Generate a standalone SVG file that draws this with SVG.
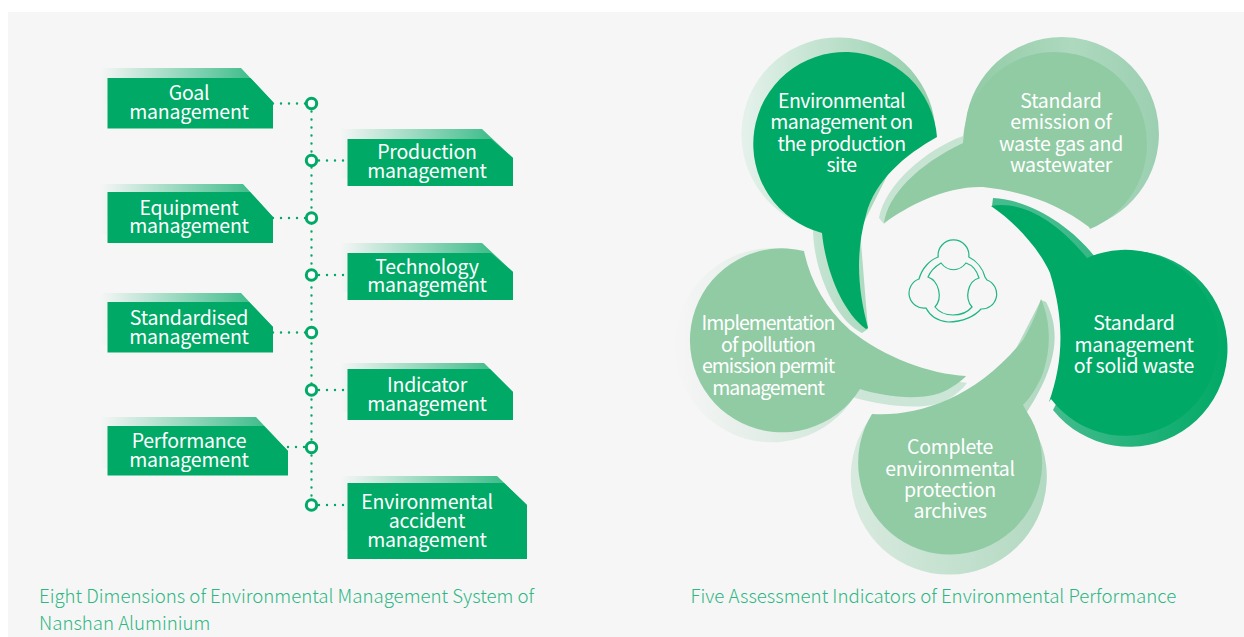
<svg xmlns="http://www.w3.org/2000/svg" width="1244" height="637" viewBox="0 0 1244 637">
<style>
text{font-family:"Noto Sans CJK SC","Noto Sans",sans-serif;text-anchor:middle;fill:#fff;font-size:19.5px}
.cap{text-anchor:start;fill:#2fb684;font-size:18.65px;font-weight:300}
.tag{fill:#00a966}
.t{letter-spacing:-.2px}
.light{fill:#90cba4}
.dark{fill:#00a966}
.dots{fill:none;stroke:#00a966;stroke-width:2.4;stroke-linecap:round;stroke-dasharray:0 8}
.ring{fill:#fff;stroke:#00a966;stroke-width:3}
.icon{fill:none;stroke:#1fb586;stroke-width:1.2}
</style>
<defs>
<linearGradient id="tb" x1="0" x2="1" y1="0" y2="0"><stop offset="0" stop-color="#00a966" stop-opacity="0"/><stop offset="1" stop-color="#00a966" stop-opacity=".85"/></linearGradient>
<linearGradient id="b1" gradientUnits="userSpaceOnUse" x1="740" x2="935" y1="0" y2="0"><stop offset="0" stop-color="#e6f2ec"/><stop offset="1" stop-color="#90cda8"/></linearGradient>
<linearGradient id="b2" gradientUnits="userSpaceOnUse" x1="965" x2="1159" y1="0" y2="0"><stop offset="0" stop-color="#90cba4"/><stop offset=".55" stop-color="#aed9bf"/><stop offset="1" stop-color="#9ccfb1"/></linearGradient>
<linearGradient id="b3" gradientUnits="userSpaceOnUse" x1="1050" x2="1228" y1="0" y2="0"><stop offset="0" stop-color="#45bc8e"/><stop offset="1" stop-color="#00a966"/></linearGradient>
<linearGradient id="b4" gradientUnits="userSpaceOnUse" x1="851" x2="1047" y1="0" y2="0"><stop offset="0" stop-color="#d8eadf"/><stop offset="1" stop-color="#b2d9c1"/></linearGradient>
<linearGradient id="b5" gradientUnits="userSpaceOnUse" x1="680" x2="870" y1="0" y2="0"><stop offset="0" stop-color="#f5f5f5"/><stop offset="1" stop-color="#cbe5d6"/></linearGradient>
</defs>
<rect width="1244" height="637" fill="#fff"/>
<rect x="8" y="12" width="1236" height="625" fill="#f6f6f6"/>

<g id="connectors">
<path class="dots" d="M311.500 103.500V505"/>
<path class="dots" d="M273 103.500H311M311 160.500H348M273 218H311M311 275H348M273 332.500H311M311 390H348M288 447H311M311 505H348"/>
<g>
<circle class="ring" cx="311.500" cy="103.500" r="5.200"/><circle class="ring" cx="311.500" cy="160.500" r="5.200"/><circle class="ring" cx="311.500" cy="218" r="5.200"/><circle class="ring" cx="311.500" cy="275" r="5.200"/><circle class="ring" cx="311.500" cy="332.500" r="5.200"/><circle class="ring" cx="311.500" cy="390" r="5.200"/><circle class="ring" cx="311.500" cy="447.500" r="5.200"/><circle class="ring" cx="311.500" cy="505" r="5.200"/>
</g>
</g>

<g id="goal" class="t"><path fill="url(#tb)" d="M100 68H241L273 102H107V120H100Z"/><path class="tag" d="M107.500 78H250.500L273 102V128.500H107.500Z"/><text x="189" y="100">Goal</text><text x="189" y="119">management</text></g>
<g id="production" class="t"><path fill="url(#tb)" d="M340 129H482L513 158H347.500V178H340Z"/><path class="tag" d="M347.500 139H491L513 158V186H347.500Z"/><text x="427" y="158.500">Production</text><text x="427" y="178">management</text></g>
<g id="equipment" class="t"><path fill="url(#tb)" d="M100 184H243L273 217H107V235H100Z"/><path class="tag" d="M107.500 192H250L273 217V243H107.500Z"/><text x="189" y="214.500">Equipment</text><text x="189" y="233">management</text></g>
<g id="technology" class="t"><path fill="url(#tb)" d="M340 243H482L513 272H347.500V292H340Z"/><path class="tag" d="M347.500 253H491L513 272V300H347.500Z"/><text x="427" y="273.500">Technology</text><text x="427" y="292">management</text></g>
<g id="standardised" class="t"><path fill="url(#tb)" d="M100 293H241L273 327H107V345H100Z"/><path class="tag" d="M107.500 302H249L273 327V352.500H107.500Z"/><text x="189" y="324.500">Standardised</text><text x="189" y="344">management</text></g>
<g id="indicator" class="t"><path fill="url(#tb)" d="M340 363H484L513 392H347.500V412H340Z"/><path class="tag" d="M347.500 369H490L513 392V420H347.500Z"/><text x="427" y="391.500">Indicator</text><text x="427" y="411">management</text></g>
<g id="performance" class="t"><path fill="url(#tb)" d="M100 417H256L288 451H107V468H100Z"/><path class="tag" d="M107.500 426H264L288 451V475.500H107.500Z"/><text x="189" y="447.500">Performance</text><text x="189" y="467">management</text></g>
<g id="environmental-accident" class="t"><path fill="url(#tb)" d="M340 476H497L527 505H347.500V530H340Z"/><path class="tag" d="M347.500 483H504L527 505V559H347.500Z"/><text x="427" y="509">Environmental</text><text x="427" y="528">accident</text><text x="427" y="546.500">management</text></g>

<g id="permit-bubble" letter-spacing="-1">
<path fill="url(#b5)" d="M790 250A97 97 0 1 0 854 397L855 398C880 405 925 412 947 400C955 395 962 390 967 383L920 375L850 340L800 290Z"/>
<path class="light" d="M804 251A92 92 0 1 0 860 389C885 397 925 402 947 390C955 385 962 381 966 376C930 374 885 358 850 330C825 308 810 280 804 251Z"/>
<text x="768" y="330">Implementation</text><text x="768" y="351.500">of pollution</text><text x="768" y="373">emission permit</text><text x="768" y="394.500">management</text>
</g>
<g id="site-bubble" letter-spacing="-.55">
<path fill="url(#b1)" d="M935 125A97 97 0 1 0 813 228C813 270 835 320 862 333L868 329L860 230L900 150Z"/>
<path class="dark" d="M937 137A92 92 0 1 0 822 233C825 265 840 310 866 329L868 328C858 290 855 255 866 215C875 180 905 155 937 137Z"/>
<text x="841.500" y="108">Environmental</text><text x="841.500" y="129">management on</text><text x="841.500" y="150.500">the production</text><text x="841.500" y="172">site</text>
</g>
<g id="waste-gas-bubble" letter-spacing="-.25">
<path fill="#c7e4d3" d="M963 136C925 150 885 185 879 218L884 224L920 190L965 170Z"/>
<path fill="url(#b2)" d="M965 130A97 97 0 1 1 1098 224L1060 170L980 140Z"/>
<path class="light" d="M963 143A92 92 0 1 1 1090 229L1089 227C1060 205 1027 192 983 187C945 186 908 206 884 223C888 195 917 165 963 143Z"/>
<text x="1061" y="108">Standard</text><text x="1061" y="129">emission of</text><text x="1061" y="150.500">waste gas and</text><text x="1061" y="172">wastewater</text>
</g>
<g id="solid-waste-bubble" letter-spacing="-.25">
<path fill="url(#b3)" d="M993 198C1030 200 1070 225 1095 257A98 98 0 1 1 1053 410L1100 320L1040 230L992 206Z"/>
<path class="dark" d="M1087 258A93 93 0 1 1 1051 399L1049 402C1062 365 1066 325 1050 273C1040 250 1015 222 991 206C1025 200 1060 225 1087 258Z"/>
<text x="1134" y="330">Standard</text><text x="1134" y="352">management</text><text x="1134" y="373">of solid waste</text>
</g>
<g id="archives-bubble" letter-spacing="-.3">
<path fill="url(#b4)" d="M871 417A98 98 0 1 0 1025 415C1048 380 1066 340 1046 302L1041 300L1000 380L940 420Z"/>
<path class="light" d="M872 414C915 417 975 400 1023 340C1032 325 1037 312 1041 299C1050 320 1052 345 1043 373C1037 388 1030 398 1023 405L1027 412A92 92 0 1 1 872 414Z"/>
<text x="950" y="454">Complete</text><text x="950" y="476">environmental</text><text x="950" y="497">protection</text><text x="950" y="518">archives</text>
</g>
<g id="center-icon">
<path class="icon" d="M938.200 257A15.400 15.400 0 1 1 968.800 257C977 261 983 269 985 277L987 280A15 15 0 0 1 981 309C975 316 963 322 948 322C938 321 930 316 926 308A15 15 0 0 1 919 279C922 268 930 260 938.200 257Z"/>
<path class="icon" d="M941 263C948 272 959 272 966 263C972 265 977 271 979 278C968 281 964 298 972 307C967 313 960 315 953 315C946 315 939 312 935 307C943 298 939 281 928 277C931 270 936 266 941 263Z"/>
</g>
<g id="captions">
<text class="cap" x="39" y="603">Eight Dimensions of Environmental Management System of</text>
<text class="cap" x="39" y="630">Nanshan Aluminium</text>
<text class="cap" x="690.500" y="603">Five Assessment Indicators of Environmental Performance</text>
</g>
</svg>
